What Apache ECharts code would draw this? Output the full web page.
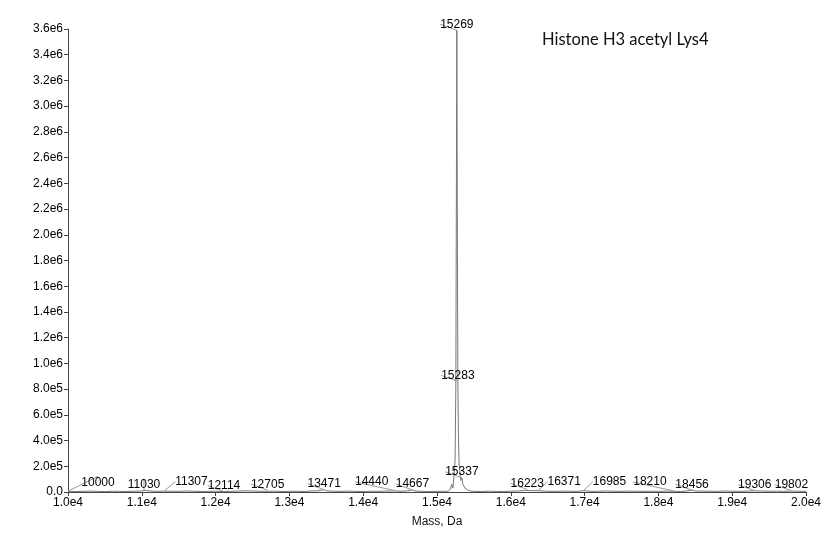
<!DOCTYPE html>
<html>
<head>
<meta charset="utf-8">
<script src="https://cdn.jsdelivr.net/npm/echarts@6/dist/echarts.min.js"></script>
<style>html,body{margin:0;padding:0;background:#fff}#c{width:832px;height:553px}</style>
</head>
<body>
<div id="c"></div>
<script>
// ---- data ----
const titleText = 'Histone H3 acetyl Lys4';
const xAxisName = 'Mass, Da';
// baseline trace (Da, counts)
const baseMass = [
  10000,10100,10200,10300,10400,10500,10600,10700,10800,10900,
  11000,11100,11200,11300,11400,11500,11600,11700,11800,11900,
  12000,12100,12200,12300,12400,12500,12600,12700,12800,12900,
  13000,13100,13200,13300,13400,13500,13600,13700,13800,13900,
  14000,14100,14200,14300,14400,14500,14600,14700,14800,14900,
  15000,15100,
  15500,15600,15700,15800,15900,
  16000,16100,16200,16300,16400,16500,16600,16700,16800,16900,
  17000,17100,17200,17300,17400,17500,17600,17700,17800,17900,
  18000,18100,18200,18300,18400,18500,18600,18700,18800,18900,
  19000,19100,19200,19300,19400,19500,19600,19700,19800,19900,
  20000];
const baseIntensity = [
  6000,4000,5000,7000,5000,3000,6000,5000,4000,6000,
  8000,9000,5000,7000,6000,5000,8000,6000,4000,5000,
  6000,4000,5000,7000,9000,8000,6000,5000,7000,4000,
  5000,6000,4000,8000,10000,9000,6000,5000,7000,5000,
  4000,6000,5000,7000,8000,6000,9000,8000,5000,4000,
  5000,6000,
  5000,4000,6000,5000,4000,
  6000,8000,12000,10000,9000,6000,5000,7000,6000,5000,
  7000,5000,6000,8000,6000,5000,7000,6000,5000,6000,
  5000,7000,6000,4000,9000,8000,7000,6000,5000,8000,
  6000,5000,7000,9000,8000,6000,7000,5000,8000,6000,
  5000];
// main peak cluster
const peakMass = [15150,15180,15200,15215,15230,15245,15255,15262,15269,15276,15283,15290,15300,15315,15325,15337,15350,15365,15380,15400,15420,15450];
const peakIntensity = [5000,20000,60000,30000,120000,250000,800000,2200000,3590000,2000000,860000,450000,220000,130000,90000,110000,60000,70000,30000,40000,15000,8000];
// labelled peaks
const labelMass = [10000,11030,11307,12114,12705,13471,14440,14667,15269,15283,15337,16223,16371,16985,18210,18456,19306,19802];
const labelIntensity = [6000,12000,10000,4000,14000,18000,9000,16000,3590000,860000,110000,20000,10000,10000,8000,14000,10000,10000];
// axis ticks
const xMin = 10000, xMax = 20000, xStep = 1000;
const yMin = 0, yMax = 3600000, yStep = 200000;

// ---- build ----
const spec = [];
baseMass.forEach((m,i)=>spec.push([m, baseIntensity[i]]));
peakMass.forEach((m,i)=>spec.push([m, peakIntensity[i]]));
labelMass.forEach((m,i)=>{ if(!peakMass.includes(m) && !baseMass.includes(m)) spec.push([m, labelIntensity[i]]); });
spec.sort((a,b)=>a[0]-b[0]);

// label shifts (layout only)
const shiftX = {10000:30, 11307:27, 14440:-24, 16371:26, 16985:26, 18210:-24};

function yFmt(v){
  if(v===0) return '0.0';
  if(v>=1e6) return (v/1e6).toFixed(1)+'e6';
  return (v/1e5).toFixed(1)+'e5';
}
const chart = echarts.init(document.getElementById('c'), null, {renderer:'canvas'});
chart.setOption({
  animation:false,
  backgroundColor:'#fff',
  textStyle:{fontFamily:'Liberation Sans, Arial, sans-serif'},
  title:{text:titleText, left:537, top:26, textStyle:{fontFamily:'Lato, sans-serif', fontSize:16.5, fontWeight:'normal', color:'#111'}},
  grid:{left:68, right:26, top:29, bottom:61},
  xAxis:{
    type:'value', min:xMin, max:xMax, interval:xStep,
    name:xAxisName, nameLocation:'middle', nameGap:24,
    nameTextStyle:{fontSize:12, color:'#111'},
    axisLine:{lineStyle:{color:'#444'}},
    axisTick:{length:4, lineStyle:{color:'#444'}},
    axisLabel:{fontSize:12, color:'#000', margin:5, formatter:v=>(v/1e4).toFixed(1)+'e4'},
    splitLine:{show:false}
  },
  yAxis:{
    type:'value', min:yMin, max:yMax, interval:yStep,
    axisLine:{show:true, lineStyle:{color:'#444'}},
    axisTick:{show:true, length:4, lineStyle:{color:'#444'}},
    axisLabel:{fontSize:12, color:'#000', margin:5, formatter:yFmt},
    splitLine:{show:false}
  },
  series:[
    {type:'line', data:spec, showSymbol:false, symbol:'none',
     lineStyle:{color:'#777', width:1}, z:2},
    {type:'scatter', data:labelMass.map((m,i)=>[m,labelIntensity[i]]), symbolSize:0, z:3,
     itemStyle:{opacity:1, color:'#000'},
     emphasis:{disabled:true},
     label:{show:true, position:'top', distance:0, fontSize:12, color:'#000', opacity:1,
            formatter:p=>String(p.value[0])},
     labelLine:{show:true, lineStyle:{color:'#999', width:1}},
     labelLayout:function(p){ const m = labelMass[p.dataIndex]; const dx = shiftX[m]||0; return {dx:dx, dy: dx? -3:0}; }
    }
  ]
});
</script>
</body>
</html>
